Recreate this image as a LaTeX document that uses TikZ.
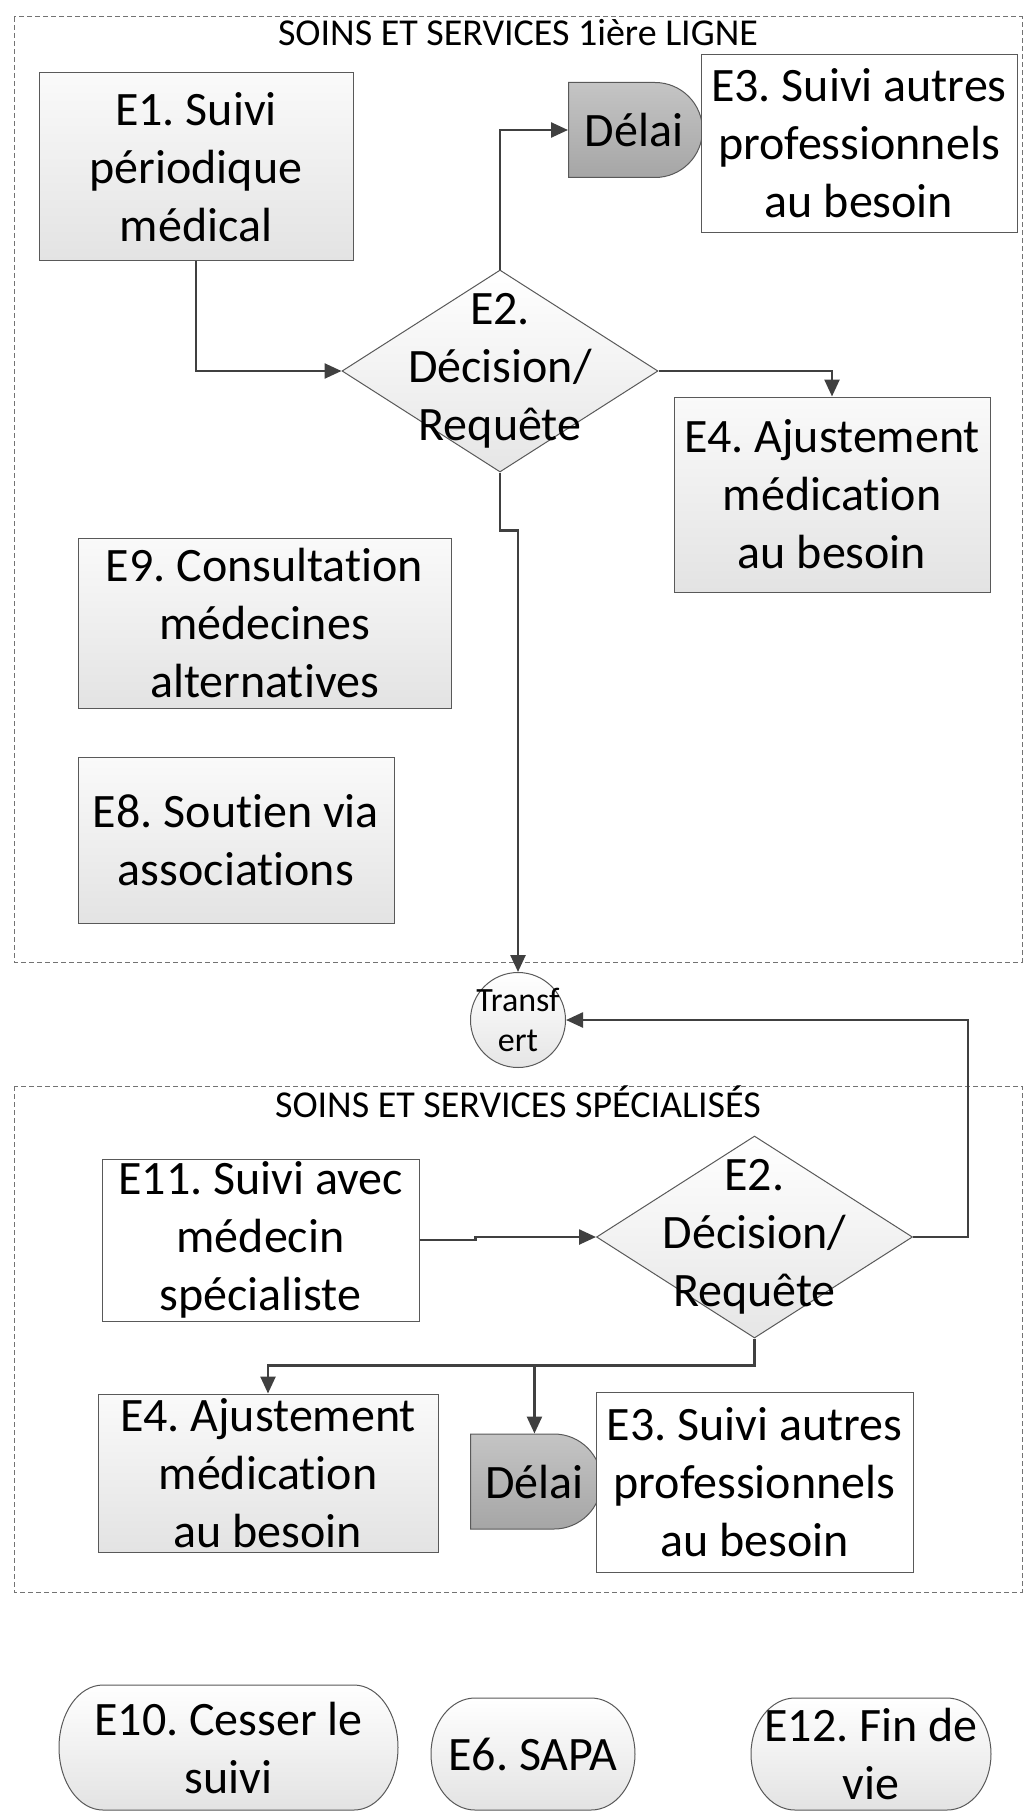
\documentclass[tikz,border=0pt]{standalone}
\usepackage{fontspec}
\setmainfont{Carlito}[Ligatures=NoCommon]
\usepackage{tikz}
\usetikzlibrary{shapes,arrows.meta}
\frenchspacing
\newcommand{\boxfont}{\fontsize{48}{58}\selectfont}
\newcommand{\titlefont}{\fontsize{38}{46}\selectfont}
\newcommand{\smallfont}{\fontsize{34}{40}\selectfont}
\newcommand{\terminalshape}[4]{%
  \shade [terminal] (#1-#3+44,#2-#4) -- (#1+#3-44,#2-#4)
    arc [start angle=-90, end angle=90, x radius=44, y radius=#4]
    -- (#1-#3+44,#2+#4)
    arc [start angle=90, end angle=270, x radius=44, y radius=#4] -- cycle;}
\tikzstyle{zone} = [draw=black!55, dash pattern=on 5pt off 3pt, line width=1pt]
\tikzstyle{zonetitle} = [font=\titlefont, anchor=base, inner sep=0pt]
\tikzstyle{block} = [rectangle, draw=black!65, line width=1pt, top color=black!2, bottom color=black!11, align=center, font=\boxfont, inner sep=0pt]
\tikzstyle{whiteblock} = [rectangle, draw=black!65, line width=1pt, fill=white, align=center, font=\boxfont, inner sep=0pt]
\tikzstyle{decision} = [diamond, draw=black!65, line width=1pt, top color=white, bottom color=black!10, inner sep=0pt, minimum width=316pt, minimum height=202pt]
\tikzstyle{delay} = [rounded rectangle, rounded rectangle left arc=none, draw=black!65, line width=1pt, top color=black!23, bottom color=black!35, font=\boxfont, inner sep=0pt, minimum height=95pt, minimum width=134pt, anchor=west]
\tikzstyle{transfer} = [circle, draw=black!65, line width=1pt, top color=white, bottom color=black!10, inner sep=0pt, minimum size=95pt]
\tikzstyle{terminal} = [draw=black!65, line width=1pt, top color=white, bottom color=black!11]
\tikzstyle{termtext} = [align=center, font=\boxfont, inner sep=0pt]
\tikzstyle{inlabel} = [font=\boxfont, align=center, inner sep=0pt]
\tikzstyle{line} = [draw=black!75, line width=2.5pt, -{Triangle[length=17pt,width=15pt]}]

\begin{document}
\begin{tikzpicture}[x=1pt, y=-1pt]
      \useasboundingbox (0,0) rectangle (1030,1811);
      \draw [zone] (14,17) rectangle (1022,962);
      \draw [zone] (14,1086) rectangle (1022,1592);
      \node [zonetitle] (title1) at (518,46) {SOINS ET SERVICES 1ière LIGNE};
      \node [zonetitle] (title2) at (518,1117) {SOINS ET SERVICES SPÉCIALISÉS};

      \node [block, minimum width=314pt, minimum height=188pt] (suivi) at (196,167) {E1. Suivi\\périodique\\médical};
      \node [decision, label={[inlabel]center:E2.\\Décision/\\Requête}] (decision1) at (500,371) {};
      \node [delay] (delai1) at (568,130) {Délai};
      \node [whiteblock, minimum width=316pt, minimum height=178pt] (autres1) at (859,143.5) {E3. Suivi autres\\professionnels\\au besoin};
      \node [block, minimum width=316pt, minimum height=195pt] (ajust1) at (832,494.5) {E4. Ajustement\\médication\\au besoin};
      \node [block, minimum width=373pt, minimum height=170pt] (altern) at (264.5,623) {E9. Consultation\\médecines\\alternatives};
      \node [block, minimum width=316pt, minimum height=166pt] (assoc) at (236,840.5) {E8. Soutien via\\associations};

      \node [transfer, label={[inlabel, font=\smallfont]center:Transf\\ert}] (transfert) at (518,1020) {};

      \node [whiteblock, minimum width=317pt, minimum height=162pt] (specia) at (260.5,1240) {E11. Suivi avec\\médecin\\spécialiste};
      \node [decision, label={[inlabel]center:E2.\\Décision/\\Requête}] (decision2) at (754.5,1237) {};
      \node [block, minimum width=340pt, minimum height=158pt] (ajust2) at (268,1473) {E4. Ajustement\\médication\\au besoin};
      \node [delay, minimum width=131pt] (delai2) at (470,1481.5) {Délai};
      \node [whiteblock, minimum width=317pt, minimum height=180pt] (autres2) at (754.5,1482) {E3. Suivi autres\\professionnels\\au besoin};

      \terminalshape{228.5}{1747.5}{169.5}{62.5}
      \terminalshape{533}{1754}{102}{56}
      \terminalshape{871}{1754}{120}{56}
      \node [termtext] (cesser) at (228.5,1747.5) {E10. Cesser le\\suivi};
      \node [termtext] (sapa) at (533,1754) {E6. SAPA};
      \node [termtext] (finvie) at (871,1754) {E12. Fin de\\vie};

      \path [line] (suivi.south) |- (decision1.west);
      \path [line] (decision1.north) |- (delai1.west);
      \path [line] (decision1.east) -| (ajust1.north);
      \path [line] (decision1.south) -- ++(0,58) -| (transfert.north);
      \path [line] (decision2.east) -- ++(55,0) |- (transfert.east);
      \path [line] (specia.east) -- ++(56,0) |- (decision2.west);
      \path [line] (decision2.south) -- ++(0,27) -| (ajust2.north);
      \path [line] (decision2.south) -- ++(0,27) -| (delai2.north);
    \end{tikzpicture}
\end{document}
